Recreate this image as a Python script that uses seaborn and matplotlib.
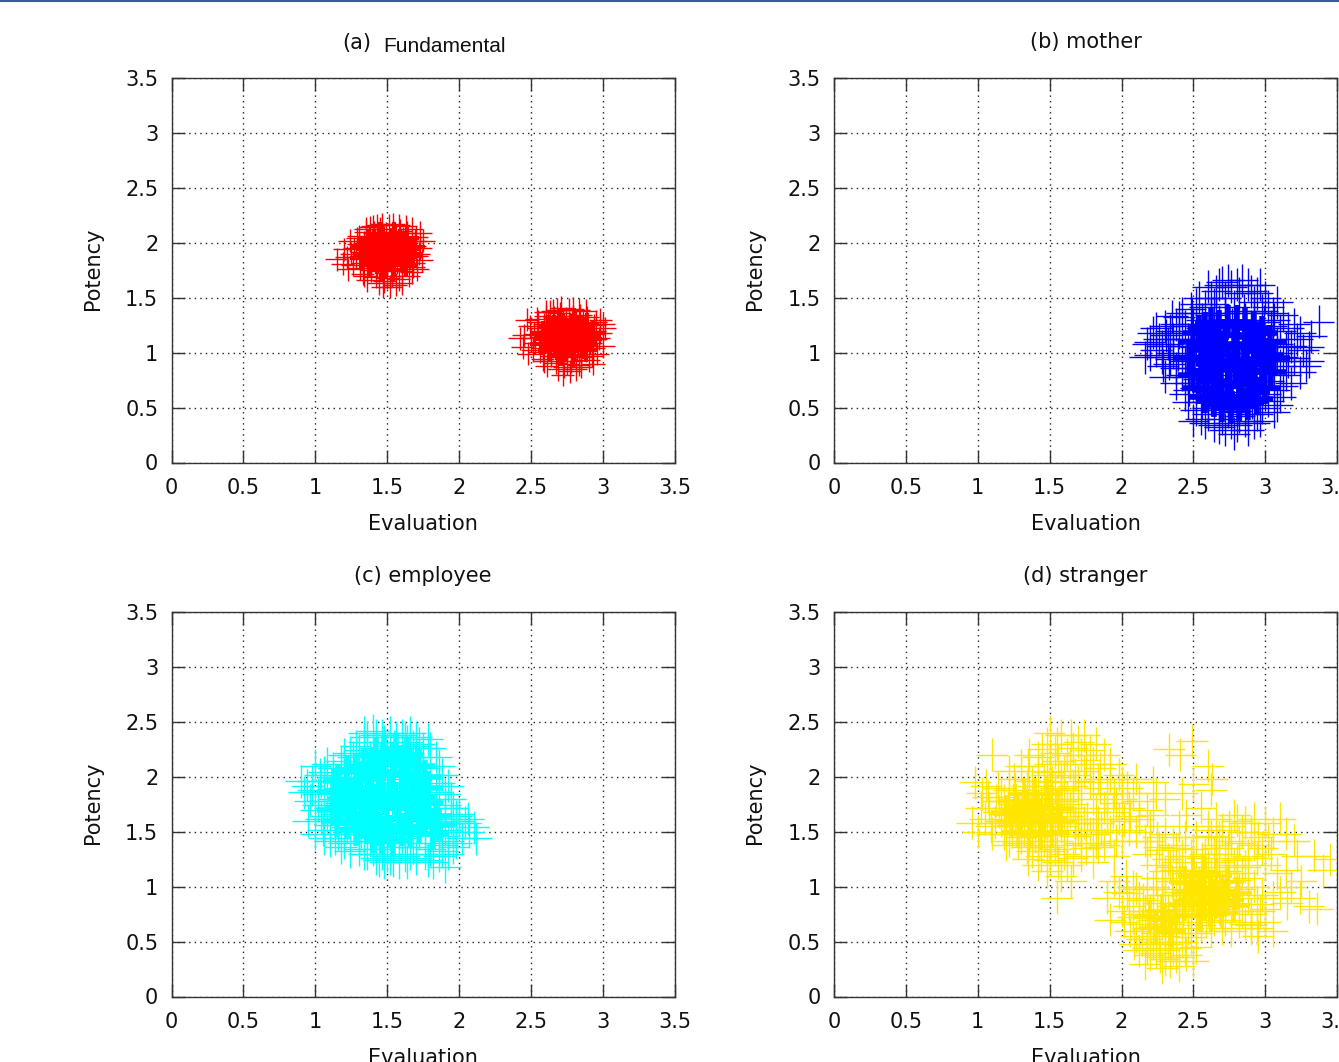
import numpy as np
import pandas as pd
import matplotlib
matplotlib.use("Agg")
import matplotlib.pyplot as plt
import seaborn as sns

TICKS = [0, 0.5, 1, 1.5, 2, 2.5, 3, 3.5]
TICK_LABELS = ["0", "0.5", "1", "1.5", "2", "2.5", "3", "3.5"]

fundamental_a = [(1.50,1.93),(1.45,1.90),(1.55,1.95),(1.48,1.98),(1.53,1.88),(1.42,1.96),(1.58,1.90),(1.46,1.85),(1.52,2.02),(1.60,1.98),
(1.38,1.92),(1.40,1.85),(1.62,1.86),(1.56,2.05),(1.44,2.03),(1.50,1.80),(1.35,1.98),(1.65,1.94),(1.36,1.86),(1.57,1.82),
(1.43,1.78),(1.49,2.08),(1.61,2.04),(1.37,2.05),(1.66,1.87),(1.32,1.92),(1.54,2.10),(1.41,2.09),(1.47,1.74),(1.55,1.76),
(1.63,1.80),(1.30,1.99),(1.33,1.82),(1.69,1.97),(1.68,1.82),(1.59,2.11),(1.45,2.13),(1.39,1.75),(1.53,1.70),(1.60,1.74),
(1.28,1.87),(1.27,1.95),(1.70,2.05),(1.72,1.90),(1.35,2.10),(1.51,2.16),(1.64,2.09),(1.42,1.69),(1.48,1.65),(1.58,1.67),
(1.24,2.02),(1.26,1.80),(1.71,1.76),(1.73,2.09),(1.33,1.72),(1.38,2.14),(1.54,2.17),(1.65,1.70),(1.20,1.94),(1.19,1.81),
(1.15,1.85),(1.22,1.87),(1.74,1.84),(1.43,2.16),(1.47,1.60),(1.36,1.66),(1.69,2.02),(1.56,1.62),(1.30,2.06),(1.67,2.13),
(1.46,1.94),(1.51,1.86),(1.56,1.99),(1.41,1.88),(1.59,1.85),(1.49,2.00),(1.44,1.97),(1.54,1.83),(1.39,1.99),(1.47,2.06),
(1.34,2.00),(1.31,1.77),(1.29,2.04),(1.25,1.90),(1.23,1.76),(1.67,1.73),(1.70,1.88),(1.73,1.95),(1.75,2.02),(1.40,2.15),
(1.46,2.17),(1.52,1.60),(1.60,1.63),(1.44,1.63),(1.34,1.70),(1.63,2.15),(1.58,2.16),(1.35,2.13),(1.50,1.68),(1.68,1.78)]

fundamental_b = [(2.75,1.15),(2.70,1.12),(2.80,1.18),(2.73,1.20),(2.78,1.09),(2.67,1.18),(2.83,1.12),(2.71,1.06),(2.77,1.25),(2.85,1.21),
(2.63,1.14),(2.65,1.07),(2.87,1.07),(2.81,1.28),(2.69,1.26),(2.75,1.01),(2.60,1.20),(2.90,1.16),(2.61,1.09),(2.82,1.03),
(2.68,1.00),(2.74,1.31),(2.86,1.27),(2.62,1.28),(2.91,1.09),(2.57,1.14),(2.79,1.33),(2.66,1.32),(2.72,0.96),(2.80,0.98),
(2.88,1.02),(2.55,1.22),(2.58,1.04),(2.94,1.20),(2.93,1.04),(2.84,1.34),(2.70,1.36),(2.64,0.97),(2.78,0.92),(2.85,0.96),
(2.53,1.09),(2.52,1.17),(2.95,1.28),(2.97,1.13),(2.60,1.33),(2.76,1.39),(2.89,1.32),(2.67,0.91),(2.73,0.87),(2.83,0.89),
(2.49,1.24),(2.51,1.02),(2.96,0.99),(2.98,1.30),(2.58,0.94),(2.63,1.37),(2.79,1.40),(2.90,0.93),(2.45,1.16),(2.44,1.05),
(2.42,1.13),(2.47,1.30),(3.00,1.06),(2.68,1.39),(2.72,0.80),(2.61,0.88),(2.94,1.25),(2.81,0.85),(2.55,1.28),(3.01,1.22),
(2.71,1.17),(2.76,1.08),(2.81,1.22),(2.66,1.10),(2.84,1.07),(2.74,1.23),(2.69,1.19),(2.79,1.05),(2.64,1.21),(2.72,1.29),
(2.59,1.26),(2.56,1.01),(2.54,1.31),(2.50,1.13),(2.48,0.99),(2.92,0.97),(2.95,1.12),(2.98,1.18),(3.00,1.26),(2.65,1.38),
(2.71,1.41),(2.77,0.83),(2.85,0.87),(2.69,0.85),(2.59,0.92),(2.88,1.38),(2.83,1.39),(2.60,1.37),(2.75,0.90),(2.93,0.90)]

mother = [(2.80,0.95),(2.75,0.90),(2.85,1.00),(2.70,0.98),(2.90,0.92),(2.65,0.88),(2.78,1.05),(2.83,0.83),(2.72,0.80),(2.92,1.06),
(2.62,0.98),(2.88,0.78),(2.68,1.10),(2.96,0.95),(2.58,0.85),(2.76,0.72),(2.84,1.14),(2.60,1.08),(2.98,0.84),(2.93,1.16),
(2.66,0.75),(2.55,0.95),(2.73,1.18),(2.87,0.68),(2.54,0.76),(3.00,1.05),(2.80,0.62),(2.64,1.20),(2.90,1.24),(2.70,0.64),
(2.52,1.05),(2.96,0.70),(2.77,1.26),(2.60,0.66),(3.04,0.92),(2.86,1.30),(2.50,0.86),(2.68,1.28),(3.05,1.12),(2.94,0.60),
(2.74,0.56),(2.57,1.18),(2.83,0.54),(2.62,0.58),(3.08,1.00),(2.99,1.28),(2.48,0.98),(2.72,1.36),(2.85,1.38),(2.52,0.68),
(3.02,0.74),(2.91,0.55),(2.66,1.36),(3.10,0.88),(2.46,1.12),(2.78,1.42),(2.68,0.50),(2.56,1.30),(3.10,1.20),(2.98,1.38),
(2.56,0.55),(2.80,0.47),(2.46,0.78),(2.92,1.46),(2.64,1.44),(3.14,1.05),(3.06,0.66),(2.72,1.50),(2.50,1.26),(2.88,0.44),
(2.60,0.44),(2.44,0.92),(3.05,1.36),(2.82,1.54),(3.14,0.80),(2.70,0.40),(2.52,0.48),(2.98,0.50),(3.16,1.22),(2.58,1.42),
(2.42,1.06),(2.90,1.56),(2.76,1.60),(3.10,0.60),(2.66,1.56),(2.92,0.36),(2.44,0.62),(2.80,0.34),(3.00,1.50),(2.54,1.50),
(2.40,1.18),(3.20,0.95),(2.64,0.34),(2.72,0.30),(3.08,1.46),(2.38,0.86),(3.22,1.12),(3.18,0.72),(2.84,1.66),(2.70,1.64),
(2.60,1.60),(2.96,1.62),(2.48,1.40),(2.50,0.38),(3.06,0.46),(2.78,0.26),(2.36,1.00),(2.34,1.20),(3.26,1.02),(3.28,0.88),
(2.88,0.30),(2.96,0.38),(2.35,1.33),(2.32,1.08),(2.28,0.96),(2.30,1.24),(2.26,1.12),(2.24,1.02),(2.22,1.18),(2.20,0.98),
(2.18,1.08),(2.16,0.96),(2.40,1.32),(2.33,0.90),(2.30,0.78),(2.38,0.72),(3.30,1.05),(3.37,1.28),(3.30,0.92),(3.32,1.15),
(2.44,1.24),(2.42,0.80),(2.39,0.98),(2.36,1.12),(2.47,0.66),(2.49,1.36),(2.46,0.55),(2.55,0.40),(2.62,1.50),(2.68,1.62),
(2.74,1.66),(2.80,1.62),(2.88,1.62),(2.94,1.54),(3.02,1.42),(3.06,1.30),(3.12,1.34),(3.18,1.06),(3.20,1.26),(3.24,0.82),
(3.12,0.70),(3.08,0.52),(3.02,0.56),(2.94,0.44),(2.86,0.38),(2.76,0.36),(2.68,0.32),(2.58,0.36),(2.34,0.94),(2.28,1.06),
(2.24,1.22),(2.20,1.10),(2.31,1.16),(2.29,0.88),(2.38,1.26),(2.42,1.36),(2.52,1.44),(3.00,0.62),(3.16,0.92),(3.24,1.18),
(2.50,0.72),(2.56,1.22),(3.08,1.08),(3.12,0.96),(2.92,1.36),(2.62,1.34),(2.60,0.50),(2.82,0.42),(2.74,0.46),(3.04,1.24)]

mother_core = [(2.58,0.82),(2.62,1.02),(2.66,0.74),(2.70,1.05),(2.74,0.70),(2.78,1.08),(2.82,0.72),(2.86,1.05),(2.90,0.75),(2.94,1.02),(2.98,0.82),(3.01,0.98),
(2.55,0.94),(2.60,0.66),(2.64,1.14),(2.68,0.62),(2.72,1.16),(2.76,0.58),(2.80,1.16),(2.84,0.60),(2.88,1.14),(2.92,0.64),(2.96,1.10),
(2.57,1.06),(2.63,0.90),(2.69,0.88),(2.75,0.90),(2.81,0.92),(2.87,0.90),(2.93,0.90),(2.99,0.94),(2.67,0.98),(2.79,0.84),(2.85,0.84),
(2.50,0.80),(2.47,0.95),(2.50,1.10),(2.54,0.68),(2.54,1.18),(2.58,1.22),(2.62,1.26),(2.68,1.24),(2.74,1.28),(2.80,1.28),(2.86,1.26),(2.92,1.22),
(2.98,1.18),(3.03,1.10),(3.06,0.95),(3.04,0.82),(3.00,0.68),(2.94,0.58),(2.88,0.54),(2.82,0.52),(2.76,0.50),(2.70,0.52),(2.64,0.56),(2.58,0.60)]

employee = [(1.50,1.85),(1.45,1.90),(1.55,1.80),(1.40,1.82),(1.60,1.92),(1.35,1.78),(1.48,1.98),(1.53,1.72),(1.42,2.00),(1.62,1.74),
(1.32,1.90),(1.58,2.04),(1.38,1.68),(1.66,1.85),(1.28,1.82),(1.46,1.62),(1.54,2.10),(1.30,2.00),(1.68,2.00),(1.63,1.62),
(1.36,2.08),(1.25,1.92),(1.43,2.12),(1.57,1.58),(1.24,1.72),(1.70,1.72),(1.50,2.18),(1.34,1.60),(1.60,2.14),(1.40,1.55),
(1.22,1.84),(1.66,1.56),(1.47,2.22),(1.30,2.12),(1.74,1.92),(1.56,2.22),(1.20,1.98),(1.38,2.18),(1.75,2.08),(1.52,1.50),
(1.44,1.48),(1.26,1.62),(1.62,1.46),(1.32,1.50),(1.78,1.80),(1.69,2.18),(1.18,1.76),(1.42,2.26),(1.55,2.28),(1.22,1.54),
(1.72,1.48),(1.60,1.44),(1.36,2.24),(1.80,1.66),(1.16,1.90),(1.48,2.32),(1.38,1.42),(1.26,2.18),(1.80,2.02),(1.68,2.28),
(1.14,1.66),(1.50,1.40),(1.16,1.48),(1.62,2.36),(1.34,2.32),(1.84,1.86),(1.76,1.40),(1.42,2.38),(1.20,2.08),(1.58,1.36),
(1.30,1.42),(1.12,1.80),(1.75,2.26),(1.52,2.40),(1.84,1.58),(1.40,1.34),(1.12,2.00),(1.68,1.36),(1.86,2.10),(1.28,2.28),
(1.10,1.72),(1.60,2.38),(1.46,1.30),(1.80,1.34),(1.36,1.30),(1.62,1.28),(1.10,1.56),(1.50,1.28),(1.70,2.36),(1.24,2.22),
(1.08,1.88),(1.90,1.74),(1.34,2.40),(1.42,1.26),(1.78,2.34),(1.08,1.64),(1.92,1.92),(1.88,1.46),(1.54,1.24),(1.40,2.42),
(1.30,1.34),(1.66,2.40),(1.18,2.14),(1.20,1.40),(1.76,1.30),(1.48,1.22),(1.06,1.78),(1.04,1.96),(1.96,1.72),(1.98,1.58),
(1.58,1.22),(1.66,1.30),(1.05,1.52),(1.02,1.84),(0.98,1.88),(1.00,1.70),(0.96,1.78),(0.94,1.92),(0.92,1.86),(0.90,1.96),
(0.95,1.60),(1.00,1.48),(1.10,1.42),(1.03,2.02),(1.00,2.10),(1.08,2.12),(2.00,1.66),(2.07,1.50),(2.00,1.60),(2.02,1.44),
(1.82,1.48),(1.86,1.64),(1.90,1.52),(1.84,1.72),(1.94,1.62),(1.88,1.38),(1.92,1.42),(1.80,1.56),(1.96,1.50),(1.86,1.28),
(1.92,1.30),(1.98,1.40),(1.82,1.22),(1.74,1.60),(2.04,1.58),(1.90,1.18),(1.98,1.64),(2.10,1.54),(2.12,1.44),(2.06,1.62),
(1.04,1.62),(1.06,1.44),(1.02,1.74),(0.98,1.96),(1.06,2.04),(1.12,2.08),(1.14,1.44),(1.18,1.36),(1.24,1.32),(1.20,2.20),
(1.30,2.24),(1.36,2.36),(1.46,2.38),(1.56,2.36),(1.64,2.32),(1.72,2.30),(1.80,2.26),(1.84,2.18),(1.88,2.02),(1.90,1.84),
(1.94,1.80),(1.86,1.94),(1.88,1.32),(1.78,1.24),(1.70,1.26),(1.64,1.22),(1.52,1.26),(1.44,1.24),(1.34,1.30),(1.96,1.36)]

employee_core = [(1.18,1.72),(1.22,1.92),(1.26,1.66),(1.30,1.96),(1.34,1.64),(1.38,1.98),(1.42,1.62),(1.46,2.02),(1.50,1.62),(1.54,2.04),(1.58,1.62),(1.62,2.02),(1.66,1.64),(1.70,1.98),(1.74,1.68),
(1.20,1.80),(1.24,1.76),(1.28,1.86),(1.32,1.74),(1.36,1.82),(1.40,1.78),(1.44,1.84),(1.48,1.80),(1.52,1.84),(1.56,1.80),(1.60,1.84),(1.64,1.80),(1.68,1.84),(1.72,1.82),
(1.40,2.12),(1.47,2.16),(1.54,2.16),(1.60,2.14),(1.66,2.10),(1.44,1.52),(1.52,1.50),(1.60,1.52),(1.36,1.54),
(1.12,1.70),(1.12,1.86),(1.15,1.60),(1.16,1.96),(1.22,2.04),(1.22,1.58),(1.28,2.06),(1.28,1.52),(1.34,2.10),(1.72,2.10),(1.76,2.00),(1.78,1.90),(1.78,1.76),
(1.76,1.62),(1.72,1.54),(1.66,1.50),(1.84,1.64),(1.86,1.56),(1.82,1.48),(1.48,2.22),(1.56,2.24),(1.64,2.20),(1.42,2.20),(1.46,1.44),(1.54,1.42),(1.40,1.46)]

stranger_left = [(1.40,1.65),(1.35,1.62),(1.45,1.70),(1.30,1.68),(1.50,1.60),(1.38,1.55),(1.44,1.75),(1.28,1.58),(1.55,1.70),(1.33,1.78),
(1.48,1.50),(1.22,1.65),(1.58,1.55),(1.25,1.75),(1.40,1.46),(1.52,1.80),(1.20,1.55),(1.62,1.64),(1.36,1.85),(1.30,1.45),
(1.46,1.88),(1.15,1.68),(1.55,1.42),(1.18,1.78),(1.66,1.75),(1.60,1.88),(1.42,1.38),(1.12,1.58),(1.26,1.88),(1.70,1.52),
(1.34,1.36),(1.08,1.72),(1.50,1.32),(1.10,1.48),(1.72,1.40),(1.60,1.30),(1.20,1.38),(1.05,1.62),(1.03,1.85),(1.02,1.72),
(0.98,1.95),(0.96,1.58),(1.00,1.50),(1.06,1.92),(1.14,1.90),(1.30,2.10),(1.25,1.98),(1.50,1.24),(1.42,1.20),(1.62,1.20),
(1.58,1.10),(1.55,0.90),(1.65,1.05),(1.48,1.14),(1.35,1.25),(1.72,1.28),(1.80,1.22),(1.42,1.65),(1.37,1.70),(1.32,1.60),
(1.47,1.58),(1.43,1.52),(1.28,1.72),(1.52,1.68),(1.36,1.48),(1.24,1.50),(1.56,1.62),(1.46,1.42),(1.40,1.80),(1.26,1.62),
(1.40,1.58),(1.34,1.72),(1.44,1.62),(1.38,1.66),(1.32,1.52),(1.50,1.75),(1.30,1.63),(1.46,1.66),(1.21,1.72),(1.54,1.50),
(1.16,1.60),(1.13,1.78),(1.09,1.55),(1.07,1.82),(1.18,1.48),(1.22,1.42),(1.28,1.40),(1.38,1.32),(1.44,1.28),(1.54,1.34),
(1.62,1.38),(1.68,1.46),(1.74,1.58),(1.78,1.48),(1.84,1.36),(1.66,1.26),(1.56,1.22),(1.34,1.92),(1.22,1.88),(1.16,1.82),
(1.42,1.92),(1.54,1.90),(1.64,1.68),(1.58,1.78),(1.68,1.58),(1.36,1.42),(1.24,1.56),(1.18,1.66),(1.48,1.36),(1.60,1.48)]

stranger_top = [(1.55,2.30),(1.62,2.20),(1.50,2.12),(1.70,2.32),(1.45,2.25),(1.75,2.15),(1.60,2.05),(1.42,2.05),(1.82,2.30),(1.68,2.02),
(1.52,1.95),(1.85,2.08),(1.78,1.95),(1.58,1.90),(1.92,1.98),(1.38,1.96),(1.72,1.85),(1.65,2.38),(1.50,2.40),(1.48,2.02),
(1.80,1.80),(1.95,1.85),(1.62,1.80),(1.88,1.72),(2.00,1.95),(2.05,1.72),(1.70,1.68),(1.98,1.62),(1.84,1.58),(2.08,1.85),
(1.76,1.62),(2.12,1.62),(1.92,1.50),(2.00,1.42),(1.80,1.48),(1.68,1.58),(1.88,1.38),(1.95,1.28),(1.75,1.35),(2.05,1.52),
(2.20,1.55),(2.12,1.78),(2.18,1.70),(2.25,1.45),(2.22,1.95),(2.24,1.85),(1.10,2.20),(1.22,2.05),(1.35,2.10),(1.85,1.90),
(1.74,2.05),(1.66,1.92),(1.56,2.14),(1.90,1.62),(1.96,1.76),(1.82,1.68),(1.72,1.52),(2.02,1.60),(1.64,1.72),(1.58,1.78),
(1.48,2.30),(1.58,2.38),(1.66,2.26),(1.74,2.38),(1.78,2.24),(1.88,2.20),(1.92,2.12),(1.54,2.22),(1.42,2.18),(1.36,2.20),
(1.64,2.12),(1.72,2.20),(1.80,2.12),(1.98,2.02),(2.04,1.90),(2.10,1.98),(1.50,2.04),(1.46,1.96),(1.58,2.00),(1.70,1.96),
(1.84,1.98),(1.90,1.84),(2.00,1.80),(2.06,1.64),(1.94,1.68),(1.86,1.52),(1.96,1.42),(2.10,1.50),(2.16,1.42),(1.82,1.40)]

stranger_sparse = [(2.33,2.25),(2.49,2.33),(2.60,2.10),(2.41,2.20),(2.50,1.93),(2.63,1.98),(2.42,1.85),(2.55,1.72),(2.45,1.65),(2.60,1.55),
(2.52,1.45),(2.40,1.55),(2.30,1.80),(2.62,1.88),(2.38,1.35),(2.28,1.33),(2.66,1.35),(2.22,1.65)]

stranger_main = [(2.55,0.95),(2.50,0.90),(2.60,1.00),(2.45,1.02),(2.65,0.92),(2.58,0.85),(2.52,1.08),(2.62,1.10),(2.70,1.00),(2.48,0.80),
(2.40,0.95),(2.68,0.80),(2.72,0.90),(2.56,0.75),(2.44,1.12),(2.60,1.18),(2.75,1.05),(2.38,0.85),(2.64,0.70),(2.78,0.85),
(2.35,1.05),(2.50,1.22),(2.72,0.70),(2.82,0.98),(2.55,0.65),(2.68,1.22),(2.34,1.18),(2.42,1.28),(2.84,0.78),(2.78,1.20),
(2.30,0.92),(2.58,1.30),(2.86,0.66),(2.76,0.60),(2.88,0.90),(2.28,1.08),(2.50,1.34),(2.66,1.38),(2.90,0.75),(2.36,1.38),
(2.24,1.20),(2.22,1.00),(2.92,1.00),(2.94,0.62),(2.74,1.35),(2.84,1.12),(2.18,1.30),(2.20,1.42),(2.96,0.78),(2.30,1.48),
(2.44,1.45),(2.62,1.46),(2.52,0.98),(2.57,0.92),(2.47,0.94),(2.63,0.96),(2.54,1.04),(2.60,0.78),(2.66,1.04),(2.49,1.14),
(2.70,0.76),(2.41,1.05),(2.74,0.95),(2.46,0.88),(2.80,0.92),(2.38,1.15),(2.55,1.15),(2.67,0.87),(2.43,0.78),(2.59,0.68),
(2.32,1.25),(2.26,1.36),(2.48,1.28),(2.64,1.30),(2.72,1.14),(2.80,1.06),(2.88,1.08),(2.90,0.62),(2.82,0.68),(2.70,0.62),
(2.62,0.60),(2.52,0.72),(2.44,0.92),(2.36,0.98),(2.30,1.14),(2.24,1.08),(2.40,1.22),(2.56,1.26),(2.74,1.26),(2.68,1.14)]

stranger_low = [(2.25,0.70),(2.18,0.62),(2.30,0.55),(2.12,0.75),(2.38,0.68),(2.22,0.48),(2.42,0.50),(2.10,0.55),(2.32,0.78),(2.15,0.88),
(2.05,0.82),(2.02,0.68),(2.45,0.38),(2.20,0.38),(2.34,0.32),(2.12,0.42),(2.40,0.28),(2.28,0.26),(2.50,0.32),(2.52,0.45),
(2.18,0.98),(2.08,1.00),(2.03,1.10),(1.98,0.95),(1.90,0.90),(2.00,0.78),(1.95,1.05),(2.25,0.85),(2.30,0.42),(2.16,0.30),
(2.46,0.62),(2.36,0.44),(2.24,0.58),(2.14,0.66),(2.28,0.66),(2.35,0.58),(2.20,0.78),(2.06,0.60),(2.10,0.98),(1.92,0.70),
(2.42,0.82),(2.52,0.58),(2.33,0.66),(2.22,0.70),(2.18,0.52),(2.40,0.72),(2.27,0.36),(2.09,0.48),
(2.26,0.50),(2.32,0.48),(2.38,0.58),(2.44,0.44),(2.48,0.54),(2.14,0.52),(2.20,0.62),(2.36,0.82),(2.28,0.92),(2.16,0.78),
(2.08,0.72),(2.12,0.90),(2.04,0.94),(2.30,0.34),(2.24,0.40),(2.38,0.36),(2.46,0.74),(2.18,0.44)]

stranger_right = [(2.82,1.40),(2.90,1.50),(2.75,1.55),(2.98,1.35),(2.68,1.45),(3.00,1.58),(2.80,1.60),(2.88,1.28),(2.95,1.45),(2.72,1.30),
(2.60,1.52),(3.05,1.48),(3.04,1.30),(3.10,1.62),(2.86,1.18),(2.78,1.65),(3.00,1.20),(2.92,1.62),(3.14,1.48),(2.66,1.62),
(3.20,1.42),(3.22,1.28),(3.34,1.28),(3.45,1.25),(3.40,1.15),(3.25,1.05),(3.18,1.00),(3.10,0.95),(3.15,0.85),(3.24,0.90),
(3.30,0.82),(3.36,0.80),(3.05,0.90),(3.00,0.80),(3.08,1.12),(3.14,1.15),(3.00,0.68),(2.95,0.55),(3.05,0.60),(2.90,0.65),
(2.84,1.50),(2.76,1.42),(2.92,1.38),(2.86,1.58),(2.94,1.26),(2.80,1.24),(3.02,1.42),(2.70,1.52),(2.98,0.92),(2.94,0.84)]

stranger_core = [(1.30,1.62),(1.34,1.74),(1.38,1.58),(1.42,1.72),(1.46,1.60),(1.50,1.72),(1.36,1.66),(1.44,1.66),(1.52,1.62),(1.28,1.70),
(2.50,0.88),(2.54,1.00),(2.58,0.84),(2.62,0.98),(2.66,0.86),(2.70,0.96),(2.74,0.88),(2.56,0.92),(2.64,0.92),(2.72,0.92),(2.48,0.96),
(1.24,1.60),(1.20,1.68),(1.26,1.78),(1.32,1.84),(1.40,1.84),(1.48,1.84),(1.56,1.72),(1.58,1.60),(1.52,1.50),(1.44,1.48),(1.36,1.48),(1.28,1.50),
(2.44,0.84),(2.44,1.04),(2.50,1.10),(2.58,1.12),(2.66,1.10),(2.74,1.04),(2.80,0.94),(2.78,0.82),(2.70,0.76),(2.62,0.74),(2.54,0.74),
(2.30,0.70),(2.24,0.62),(2.34,0.60),(2.28,0.78),(2.20,0.72),(2.38,0.74)]

core_a = [(1.38,1.86),(1.42,1.98),(1.46,1.84),(1.50,1.97),(1.54,1.85),(1.58,1.98),(1.62,1.87),(1.40,1.92),(1.44,1.90),(1.48,1.90),(1.52,1.92),(1.56,1.91),(1.60,1.92),
(1.36,1.94),(1.64,1.94),(1.34,1.90),(1.66,1.90),(1.41,2.02),(1.47,2.04),(1.53,2.03),(1.59,2.02),(1.43,1.82),(1.49,1.80),(1.55,1.80),(1.61,1.83),
(1.32,1.86),(1.68,1.96),(1.33,1.96),(1.37,2.02),(1.64,2.04),(1.38,1.80),(1.63,1.80),(1.45,2.08),(1.55,2.08),(1.46,1.76),(1.54,1.75)]
core_b = [(2.63,1.08),(2.67,1.20),(2.71,1.06),(2.75,1.19),(2.79,1.07),(2.83,1.20),(2.87,1.09),(2.65,1.14),(2.69,1.12),(2.73,1.12),(2.77,1.14),(2.81,1.13),(2.85,1.14),
(2.61,1.16),(2.89,1.16),(2.59,1.12),(2.91,1.12),(2.66,1.24),(2.72,1.26),(2.78,1.25),(2.84,1.24),(2.68,1.04),(2.74,1.02),(2.80,1.02),(2.86,1.05),
(2.57,1.08),(2.93,1.18),(2.58,1.18),(2.62,1.24),(2.89,1.26),(2.63,1.02),(2.88,1.02),(2.70,1.30),(2.80,1.30),(2.71,0.98),(2.79,0.97)]

PANELS = [
    ("a", "#ff0000", [fundamental_a, fundamental_b], [core_a, core_b], 3.0, 0.08, 0.105, 0, 0),
    ("b", "#0000ff", [mother], [mother_core], 4.0, 0.11, 0.15, 0, 1),
    ("c", "#00ffff", [employee], [employee_core], 4.0, 0.11, 0.15, 1, 0),
    ("d", "#ffe600", [stranger_left, stranger_top, stranger_sparse, stranger_main, stranger_low, stranger_right],
     [stranger_core], 2.6, 0.11, 0.15, 1, 1),
]
TITLES = {"b": "(b) mother", "c": "(c) employee", "d": "(d) stranger"}

sns.set_theme(style="white")
plt.rcParams["font.family"] = ["DejaVu Sans"]
W, H = 1339, 1062
fig = plt.figure(figsize=(W / 100, H / 100), dpi=100, facecolor="white")
LEFTS = [171.5, 833.8]
TOPS = [78, 612]
AW, AH = 503.5, 384.5
INK = "#111111"

for key, color, groups, cores, core_lw, hx, hy, row, col in PANELS:
    ax = fig.add_axes([LEFTS[col] / W, 1 - (TOPS[row] + AH) / H, AW / W, AH / H])
    df = pd.DataFrame(np.vstack(groups), columns=["Evaluation", "Potency"])
    core = pd.DataFrame(np.vstack(cores), columns=["Evaluation", "Potency"])
    ax.errorbar(core["Evaluation"], core["Potency"], xerr=hx, yerr=hy, fmt="none",
                ecolor=color, elinewidth=core_lw, capsize=0, zorder=3)
    ax.errorbar(df["Evaluation"], df["Potency"], xerr=hx, yerr=hy, fmt="none",
                ecolor=color, elinewidth=1.0, capsize=0, zorder=3)
    sns.scatterplot(data=df, x="Evaluation", y="Potency", ax=ax, color=color,
                    s=1, linewidth=0, zorder=3, legend=False)
    ax.set_xlim(0, 3.5)
    ax.set_ylim(0, 3.5)
    ax.set_xticks(TICKS, TICK_LABELS)
    ax.set_yticks(TICKS, TICK_LABELS)
    ax.grid(True, color="#222222", linestyle=(0, (1, 3)), linewidth=1.0, zorder=1)
    ax.set_axisbelow(True)
    ax.tick_params(axis="both", which="major", direction="in", length=9.5, width=1,
                   color="#333333", labelsize=15, labelcolor=INK,
                   top=True, right=True, bottom=True, left=True)
    ax.tick_params(axis="x", pad=11.2)
    ax.tick_params(axis="y", pad=9.5)
    for s in ax.spines.values():
        s.set_color("#333333")
        s.set_linewidth(1.0)
    ax.set_xlabel("Evaluation", fontsize=15, color=INK, labelpad=11.3)
    ax.set_ylabel("Potency", fontsize=15, color=INK)
    ax.yaxis.set_label_coords(-(LEFTS[0] - 93) / AW, 0.5 + 2 / AH)
    ax.yaxis.label.set_va("center")
    cx = LEFTS[col] + AW / 2
    if key == "a":
        fig.text(342.5 / W, 1 - 43 / H, "(a)", fontsize=15, color=INK, ha="left", va="center")
        fig.text(383.5 / W, 1 - 47 / H, "Fundamental", fontsize=15, color=INK, ha="left", va="center",
                 family="Liberation Sans")
    else:
        fig.text(cx / W, 1 - (TOPS[row] - 36.3) / H, TITLES[key], fontsize=15, color=INK,
                 ha="center", va="center")

fig.add_artist(plt.Line2D([0, 1], [1 - 0.7 / H, 1 - 0.7 / H], color="#3c5a9a", linewidth=1.5))
fig.savefig("out.png", dpi=100, facecolor="white")
